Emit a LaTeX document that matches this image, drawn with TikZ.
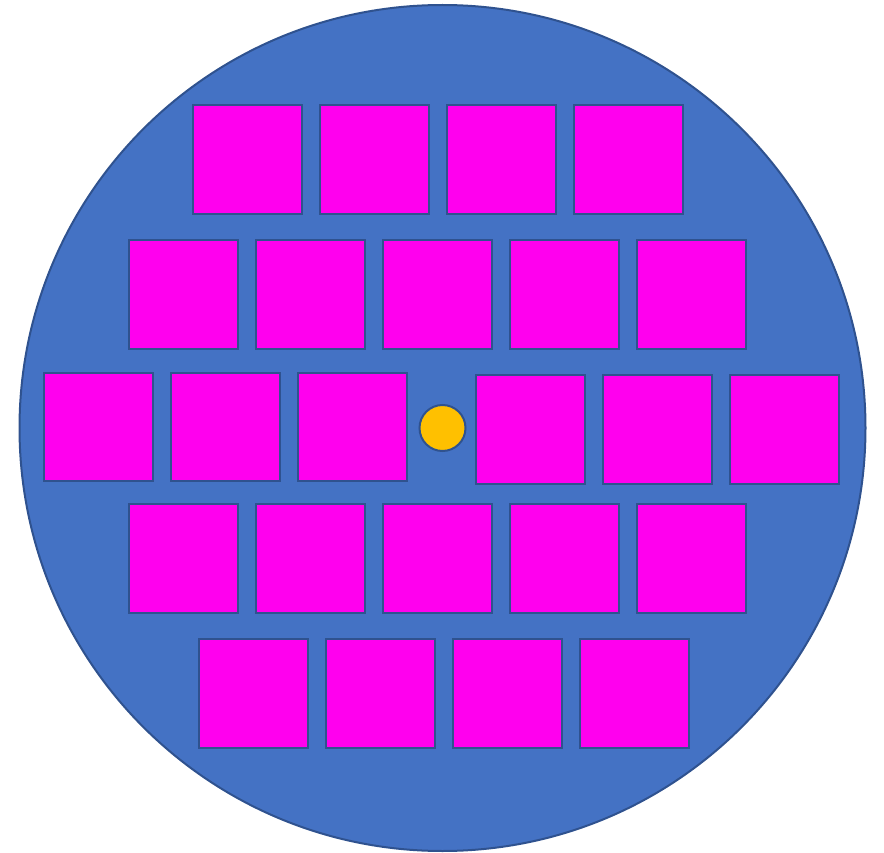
\documentclass[tikz,border=0pt]{standalone}
\definecolor{wafer}{HTML}{4472C4}
\definecolor{edge}{HTML}{2F528F}
\definecolor{die}{HTML}{FF00EE}
\definecolor{dot}{HTML}{FFC000}
\begin{document}
\begin{tikzpicture}[x=1pt,y=-1pt,
  diebox/.style={draw=edge,line width=2pt,fill=die},
  waferdisk/.style={draw=edge,line width=2pt,fill=wafer},
  centre/.style={draw=edge,line width=2pt,fill=dot}]
\useasboundingbox (0,0) rectangle (884,853);
\node[waferdisk,circle,minimum size=846pt,inner sep=0pt] (wafer) at (442.5,428) {};
\node[centre,circle,minimum size=46pt,inner sep=0pt] (mark) at (442.5,428) {};
% row 1
\foreach \x [count=\i] in {193,320,447,574}
  \draw[diebox] (\x,105) rectangle ++(109,109);
% row 2
\foreach \x in {129,256,383,510,637}
  \draw[diebox] (\x,240) rectangle ++(109,109);
% row 3
\foreach \x in {44,171,298}
  \draw[diebox] (\x,373) rectangle ++(109,108);
\foreach \x in {476,603,730}
  \draw[diebox] (\x,375) rectangle ++(109,109);
% row 4
\foreach \x in {129,256,383,510,637}
  \draw[diebox] (\x,504) rectangle ++(109,109);
% row 5
\foreach \x in {199,326,453,580}
  \draw[diebox] (\x,639) rectangle ++(109,109);
\end{tikzpicture}
\end{document}
